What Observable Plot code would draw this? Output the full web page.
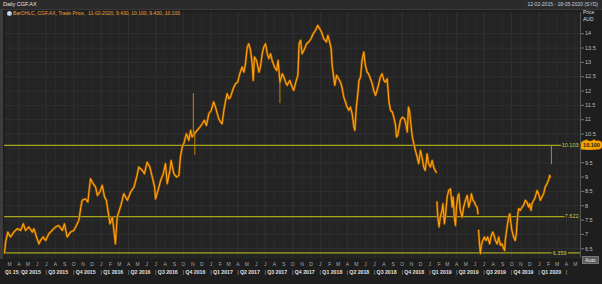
<!DOCTYPE html>
<html><head><meta charset="utf-8">
<script src="https://cdn.jsdelivr.net/npm/d3@7"></script>
<script src="https://cdn.jsdelivr.net/npm/@observablehq/plot@0.6"></script>
<style>
html,body{margin:0;padding:0;background:#1e1e1e;}
#wrap{position:relative;width:602px;height:284px;overflow:hidden;background:#1e1e1e;font-family:"Liberation Sans",Arial,sans-serif;}
#chart{position:absolute;left:0;top:0;}
#topbar{position:absolute;left:0;top:0;width:602px;height:9px;background:#2b2b2b;border-bottom:1px solid #3a3a3a;}
.t{position:absolute;white-space:nowrap;line-height:1;}
#title{left:3px;top:2px;font-size:5.5px;color:#e2e2e2;}
#range{right:4px;top:2px;font-size:5px;color:#d0d0d0;}
#legend{left:13px;top:11px;font-size:5px;color:#e9a233;}
#icon{position:absolute;left:7px;top:10.5px;width:5px;height:5px;border-radius:50%;background:radial-gradient(circle at 40% 40%,#e8f0ff,#7d8fb0);}
#price{left:583px;top:10px;font-size:5px;color:#d8d8d8;}
#aud{left:583px;top:16.5px;font-size:5px;color:#d8d8d8;}
#auto{position:absolute;left:582px;top:256px;width:15px;height:6px;background:#5b5b5b;border:1px solid #777;color:#eee;font-size:5px;line-height:6px;text-align:center;}
#stripe{position:absolute;left:0;top:10px;width:3px;height:249px;background:#3c3c3c;}
</style>
</head><body>
<div id="wrap">
  <div id="topbar"></div>
  <div class="t" id="title">Daily CGF.AX</div>
  <div class="t" id="range">12-02-2015 - 18-05-2020 (SYD)</div>
  <div id="stripe"></div>
  <div id="chart"></div>
  <div id="icon"></div>
  <div class="t" id="legend">BarOHLC, CGF.AX, Trade Price,&nbsp; 11-02-2020, 9.430, 10.100, 9.430, 10.100</div>
  <div class="t" id="price">Price</div>
  <div class="t" id="aud">AUD</div>
  <div id="auto">Auto</div>
</div>
<script>
// ---- data ----
const dates = [
"2015-02-12","2015-02-16","2015-02-23","2015-03-04","2015-03-15","2015-03-27","2015-04-07","2015-04-16","2015-04-23","2015-05-04",
"2015-05-16","2015-05-21","2015-05-30","2015-06-07","2015-06-12","2015-06-21","2015-06-29","2015-07-10","2015-07-21","2015-08-01",
"2015-08-12","2015-08-24","2015-08-31","2015-09-09","2015-09-20","2015-10-01","2015-10-10","2015-10-18","2015-10-24","2015-10-29",
"2015-11-09","2015-11-17","2015-11-26","2015-12-05","2015-12-13","2015-12-19","2015-12-27","2016-01-04","2016-01-12","2016-01-18",
"2016-01-23","2016-01-30","2016-02-07","2016-02-12","2016-02-17","2016-02-23","2016-03-01","2016-03-08","2016-03-16","2016-03-28",
"2016-04-08","2016-04-19","2016-04-28","2016-05-05","2016-05-17","2016-05-24","2016-06-02","2016-06-11","2016-06-19","2016-06-27",
"2016-06-30","2016-07-08","2016-07-17","2016-07-26","2016-08-02","2016-08-08","2016-08-17","2016-08-21","2016-08-30","2016-09-08",
"2016-09-16","2016-09-21","2016-09-27","2016-10-02","2016-10-11","2016-10-19","2016-10-25","2016-10-30","2016-11-07","2016-11-16",
"2016-11-25","2016-12-03","2016-12-10","2016-12-17","2016-12-25","2017-01-02","2017-01-10","2017-01-16","2017-01-22","2017-01-27",
"2017-02-02","2017-02-07","2017-02-13","2017-02-18","2017-02-24","2017-03-02","2017-03-07","2017-03-16","2017-03-24","2017-03-31",
"2017-04-07","2017-04-15","2017-04-21","2017-04-26","2017-05-02","2017-05-07","2017-05-13","2017-05-19","2017-05-22","2017-05-26",
"2017-06-02","2017-06-10","2017-06-15","2017-06-21","2017-06-26","2017-07-02","2017-07-08","2017-07-13","2017-07-19","2017-07-24",
"2017-08-01","2017-08-08","2017-08-13","2017-08-19","2017-08-27","2017-09-01","2017-09-07","2017-09-12","2017-09-21","2017-09-29",
"2017-10-04","2017-10-11","2017-10-18","2017-10-22","2017-10-27","2017-11-01","2017-11-07","2017-11-16","2017-11-23","2017-12-01",
"2017-12-08","2017-12-16","2017-12-23","2017-12-30","2018-01-05","2018-01-12","2018-01-21","2018-01-26","2018-02-01","2018-02-06",
"2018-02-09","2018-02-13","2018-02-18","2018-02-24","2018-03-03","2018-03-09","2018-03-14","2018-03-20","2018-03-26","2018-03-31",
"2018-04-06","2018-04-11","2018-04-17","2018-04-23","2018-04-26","2018-05-01","2018-05-06","2018-05-10","2018-05-15","2018-05-20",
"2018-05-26","2018-05-31","2018-06-06","2018-06-11","2018-06-17","2018-06-23","2018-06-28","2018-07-04","2018-07-09","2018-07-15",
"2018-07-20","2018-07-26","2018-08-01","2018-08-06","2018-08-12","2018-08-15","2018-08-18","2018-08-23","2018-08-29","2018-09-03",
"2018-09-09","2018-09-12","2018-09-16","2018-09-21","2018-09-25","2018-10-02","2018-10-09","2018-10-13","2018-10-18","2018-10-22",
"2018-10-26","2018-10-31","2018-11-04","2018-11-09","2018-11-14","2018-11-20","2018-11-25","2018-12-01","2018-12-06","2018-12-12",
"2018-12-17","2018-12-23","2018-12-28","2019-01-03","2019-01-09","2019-01-14","2019-01-19","2019-01-23",
"2019-01-25","2019-01-28","2019-02-01","2019-02-05","2019-02-11","2019-02-14","2019-02-19","2019-02-23","2019-02-28","2019-03-05",
"2019-03-11","2019-03-17","2019-03-20","2019-03-24","2019-03-28","2019-03-31","2019-04-04","2019-04-08","2019-04-13","2019-04-19",
"2019-04-24","2019-04-30","2019-05-06","2019-05-11","2019-05-17","2019-05-20","2019-05-25","2019-05-30","2019-06-03","2019-06-08",
"2019-06-11",
"2019-06-13","2019-06-16","2019-06-19","2019-06-22","2019-06-27","2019-07-02","2019-07-08","2019-07-13","2019-07-20","2019-07-24",
"2019-07-30","2019-08-02","2019-08-08","2019-08-14","2019-08-19","2019-08-25","2019-08-30","2019-09-05","2019-09-08","2019-09-10",
"2019-09-16","2019-09-21","2019-09-25","2019-09-29","2019-10-02","2019-10-08","2019-10-13","2019-10-17","2019-10-19","2019-10-22",
"2019-10-25","2019-10-30","2019-11-05","2019-11-10","2019-11-16","2019-11-21","2019-11-27","2019-11-30","2019-12-05","2019-12-08",
"2019-12-14","2019-12-19","2019-12-25","2019-12-30","2020-01-05","2020-01-10","2020-01-16","2020-01-21","2020-01-27","2020-02-01",
"2020-02-05","2020-02-07"
];
const prices = [
6.35,6.75,7.08,6.91,7.08,7.20,7.14,7.37,7.14,7.26,
7.08,7.20,6.91,6.67,6.79,6.91,6.79,7.02,7.14,7.26,
7.31,7.14,7.37,6.91,7.08,7.14,7.31,7.49,7.90,8.19,
8.24,8.13,8.94,8.77,8.65,8.36,8.48,8.71,8.30,8.19,
7.84,7.37,7.60,7.14,6.67,7.60,7.84,8.07,8.42,8.19,
8.48,8.65,9.00,9.35,9.23,9.12,9.52,9.35,9.00,8.65,
8.24,8.53,8.88,9.12,9.47,8.77,9.23,9.58,9.12,9.00,
9.06,9.70,10.05,10.16,10.51,10.28,10.63,10.40,10.51,10.63,
10.74,10.86,10.98,10.80,11.21,11.33,11.62,11.44,11.21,11.03,
10.92,10.86,11.33,11.62,11.91,11.73,11.79,12.08,12.26,12.31,
12.60,12.84,12.66,12.95,13.53,13.65,13.42,12.90,12.37,13.19,
13.07,12.66,12.84,13.30,13.53,13.65,13.30,13.13,13.30,13.07,
12.84,12.72,13.07,12.31,12.60,12.49,12.31,12.20,12.37,12.14,
12.02,12.31,12.55,13.65,13.77,13.30,13.42,13.65,13.71,13.83,
14.00,14.12,14.29,14.17,14.06,13.83,13.71,13.94,13.71,13.48,
12.95,12.60,12.20,12.55,12.43,12.31,12.14,11.79,11.62,11.44,
11.33,11.44,11.21,10.74,10.63,11.44,11.91,12.37,12.49,13.07,
13.36,12.90,12.66,12.60,12.43,12.26,12.02,11.85,12.02,12.26,
12.49,12.60,12.37,12.31,12.43,12.02,11.62,11.33,11.27,11.09,
10.80,10.40,10.45,10.74,10.98,11.09,11.03,10.86,10.57,11.44,
11.27,10.74,10.40,10.16,9.93,9.70,9.47,9.93,9.70,9.35,
9.23,9.81,9.47,9.35,9.58,9.35,9.23,9.17,
8.13,7.60,7.26,7.60,7.84,8.07,7.37,7.72,8.30,8.53,
8.59,7.95,8.30,7.60,7.31,7.95,8.30,8.42,7.84,7.60,
7.95,8.19,8.36,7.95,8.19,8.42,8.19,8.13,8.01,7.95,
7.72,
7.14,6.67,6.33,6.62,6.79,6.91,6.79,6.91,6.67,6.91,
7.08,7.02,6.79,6.67,6.91,6.62,6.67,6.50,6.44,6.79,
7.26,7.60,7.72,7.37,7.14,6.91,6.79,7.02,7.37,7.72,
7.90,7.84,7.95,8.01,8.19,8.13,7.95,8.07,7.84,8.07,
8.19,8.30,8.53,8.42,8.19,8.30,8.42,8.65,8.77,8.88,
9.06,9.00
];
// trading gaps (series breaks) after these dates
const gapAfter = ["2019-01-23", "2019-06-11"];
// single bars shown as vertical high-low rules
const spikeDates = ["2016-11-03", "2016-11-08", "2017-08-19", "2020-02-11"];
const spikeLows  = [10.40, 9.76, 11.56, 9.43];
const spikeHighs = [11.91, 10.60, 12.40, 10.10];
// horizontal level lines
const levelValues = [10.103, 7.622, 6.359];
const levelLabels = ["10.103", "7.622", "6.359"];
const lastPrice = 10.100;
const lastLabel = "10.100";
// axes
const yTicks = [6.5, 7, 7.5, 8, 8.5, 9, 9.5, 10, 10.5, 11, 11.5, 12, 12.5, 13, 13.5, 14];
const monthLetters = ["J","F","M","A","M","J","J","A","S","O","N","D"];
const quarterLabels = ["Q1 15","Q2 2015","Q3 2015","Q4 2015","Q1 2016","Q2 2016","Q3 2016","Q4 2016",
  "Q1 2017","Q2 2017","Q3 2017","Q4 2017","Q1 2018","Q2 2018","Q3 2018","Q4 2018",
  "Q1 2019","Q2 2019","Q3 2019","Q4 2019","Q1 2020"];
const xStart = "2015-02-12", xEnd = "2020-05-18";

// ---- build ----
const series = dates.map((d, i) => ({date: new Date(d), price: prices[i], seg: gapAfter.filter(g => d > g).length}));
const spikes = spikeDates.map((d, i) => ({date: new Date(d), low: spikeLows[i], high: spikeHighs[i]}));
const levels = levelValues.map((v, i) => ({v, label: levelLabels[i]}));
const x0 = new Date(xStart), x1 = new Date(xEnd);
const monthStarts = d3.utcMonth.range(d3.utcMonth.ceil(x0), x1);
const quarterStarts = monthStarts.filter(d => d.getUTCMonth() % 3 === 0);
const quarterItems = quarterLabels.map((q, i) => ({date: i === 0 ? x0 : quarterStarts[i - 1], label: q}));

const grid = "#303030";
const chart = Plot.plot({
  width: 602, height: 284,
  marginLeft: 4, marginRight: 22, marginTop: 12, marginBottom: 26,
  x: {type: "utc", domain: [x0, x1]},
  y: {domain: [6.16, 14.74]},
  style: {background: "transparent", fontFamily: "'Liberation Sans', Arial, sans-serif", fontSize: "5px", overflow: "visible"},
  marks: [
    Plot.frame({fill: "#242424", stroke: null}),
    Plot.ruleX(monthStarts, {stroke: "#2b2b2b"}),
    Plot.ruleX(quarterStarts, {stroke: grid}),
    Plot.ruleY(yTicks, {stroke: grid}),
    Plot.ruleY(levels, {y: "v", stroke: "#a6a61e", strokeWidth: 1.3}),
    Plot.line(series, {x: "date", y: "price", z: "seg", stroke: "#8a5200", strokeWidth: 2.4}),
    Plot.line(series, {x: "date", y: "price", z: "seg", stroke: "#ffa10f", strokeWidth: 1.1}),
    Plot.ruleX(spikes, {x: "date", y1: "low", y2: "high", stroke: "#c98400", strokeWidth: 1}),
    Plot.text(levels.slice(0, 2), {y: "v", text: "label", frameAnchor: "right", dx: -2, textAnchor: "end",
      fill: "#cfcf48", stroke: "#242424", strokeWidth: 3, fontSize: 5.5}),
    Plot.text(levels.slice(2), {y: "v", text: "label", frameAnchor: "right", dx: -14, textAnchor: "end",
      fill: "#cfcf48", stroke: "#242424", strokeWidth: 3, fontSize: 5.5}),
    Plot.ruleX([x1], {stroke: "#555"}),
    Plot.axisY({ticks: yTicks, anchor: "right", tickSize: 3, tickPadding: 1.5, fontSize: 5.5,
      fill: "#bdbdbd", stroke: "#777", tickFormat: d => String(d), label: null}),
    Plot.text([lastPrice], {y: d => d, text: [lastLabel], frameAnchor: "right", dx: 11, textAnchor: "middle",
      fill: "#1a1a1a", stroke: "#f2a300", strokeWidth: 5, strokeLinejoin: "miter", fontSize: 5.5, fontWeight: "bold"}),
    Plot.axisX({ticks: monthStarts, anchor: "bottom", tickSize: 0, tickPadding: 4, fontSize: 5,
      fill: "#a8a8a8", tickFormat: d => monthLetters[d.getUTCMonth()], label: null}),
    Plot.text(quarterStarts, {x: d => d, text: () => "|", frameAnchor: "bottom", dy: 15, fill: "#aaa", fontSize: 6}),
    Plot.text(quarterItems.slice(0, 1), {x: "date", text: "label", frameAnchor: "bottom", dy: 15, dx: 0.5, textAnchor: "start",
      fill: "#e0e0e0", fontSize: 4.8, fontWeight: "bold"}),
    Plot.text(quarterItems.slice(1), {x: "date", text: "label", frameAnchor: "bottom", dy: 15, dx: 2, textAnchor: "start",
      fill: "#e0e0e0", fontSize: 5.2, fontWeight: "bold"})
  ]
});
document.getElementById("chart").appendChild(chart);
</script>
</body></html>
